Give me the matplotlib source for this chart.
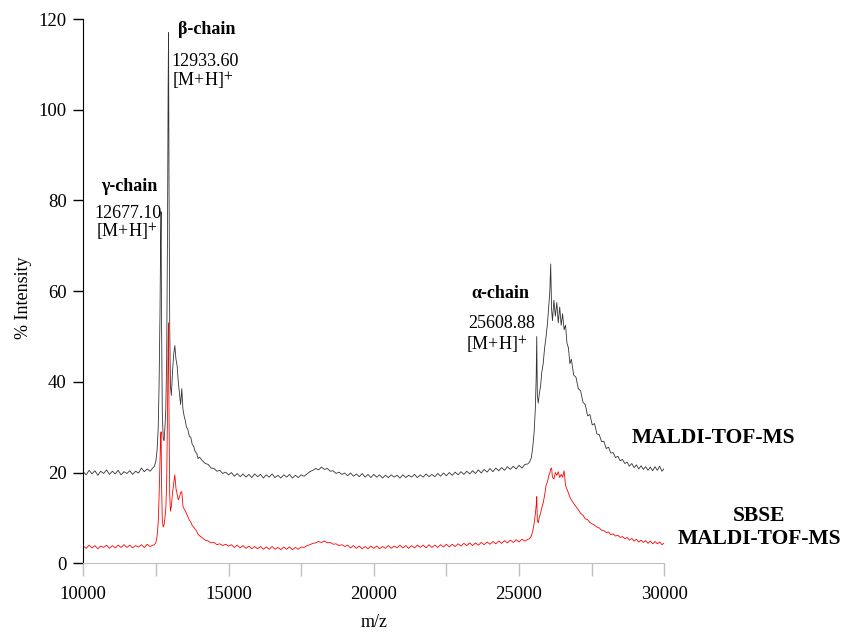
import matplotlib
matplotlib.use('Agg')
import matplotlib.pyplot as plt
from matplotlib.ticker import MultipleLocator

# m/z sampling points (denser around the chain peaks)
mz = [
    10000, 10100, 10200, 10300, 10400, 10500, 10600, 10700, 10800, 10900,
    11000, 11100, 11200, 11300, 11400, 11500, 11600, 11700, 11800, 11900,
    12000, 12100, 12200, 12300, 12400,
    12450, 12500, 12540, 12580, 12610, 12640, 12660, 12677, 12695, 12720,
    12750, 12780, 12810, 12840, 12870, 12900, 12920, 12934, 12950, 12975, 13000,
    13030, 13070, 13110, 13150, 13190, 13230, 13270, 13310, 13350, 13390,
    13430, 13470, 13510, 13550, 13600, 13650, 13700, 13750, 13800, 13850,
    13900, 13950, 14000,
    14100, 14200, 14300, 14400, 14500, 14600, 14700, 14800, 14900, 15000,
    15100, 15200, 15300, 15400, 15500, 15600, 15700, 15800, 15900, 16000,
    16100, 16200, 16300, 16400, 16500, 16600, 16700, 16800, 16900, 17000,
    17100, 17200, 17300, 17400, 17500, 17600, 17700, 17800, 17900, 18000,
    18100, 18200, 18300, 18400, 18500, 18600, 18700, 18800, 18900, 19000,
    19100, 19200, 19300, 19400, 19500, 19600, 19700, 19800, 19900, 20000,
    20100, 20200, 20300, 20400, 20500, 20600, 20700, 20800, 20900, 21000,
    21100, 21200, 21300, 21400, 21500, 21600, 21700, 21800, 21900, 22000,
    22100, 22200, 22300, 22400, 22500, 22600, 22700, 22800, 22900, 23000,
    23100, 23200, 23300, 23400, 23500, 23600, 23700, 23800, 23900, 24000,
    24100, 24200, 24300, 24400, 24500, 24600, 24700, 24800, 24900, 25000,
    25100, 25200, 25300,
    25360, 25420, 25470, 25520, 25560, 25590, 25609, 25630, 25660, 25700,
    25740, 25780, 25830, 25880, 25930, 25980, 26030, 26060, 26089, 26120,
    26150, 26200, 26250, 26300, 26350, 26400, 26450, 26500, 26550, 26600,
    26650, 26700, 26750, 26800,
    26880, 26960, 27040, 27120, 27200, 27280, 27360, 27440, 27520, 27600,
    27680, 27760, 27840, 27920, 28000, 28080, 28160, 28240, 28320, 28400,
    28480, 28560, 28640, 28720, 28800, 28880, 28960, 29040, 29120, 29200,
    29280, 29360, 29440, 29520, 29600, 29680, 29760, 29840, 29920, 30000,
]

# % intensity, MALDI-TOF-MS (black trace)
maldi = [
    20.2, 19.5, 20.5, 19.7, 20.4, 19.4, 20.3, 19.8, 20.6, 19.6,
    20.3, 19.7, 20.5, 19.5, 20.2, 19.8, 20.4, 19.6, 20.3, 19.9,
    21.0, 20.2, 20.8, 20.3, 21.1,
    21.4, 22.6, 25.0, 30.0, 40.0, 55.0, 70.0, 77.5, 52.0, 33.0,
    27.5, 27.0, 30.0, 34.0, 45.0, 75.0, 105.0, 117.0, 85.0, 52.0, 39.0,
    37.0, 42.0, 46.0, 48.0, 45.0, 43.5, 40.0, 37.5, 35.0, 38.5,
    34.0, 32.5, 31.5, 30.0, 29.5, 28.0, 27.8, 26.2, 25.8, 24.6,
    24.3, 23.1, 23.4,
    22.6, 22.0, 21.8, 21.0, 20.9, 20.3, 20.5, 19.8, 20.1, 19.5,
    20.0, 19.2, 19.8, 19.1, 19.7, 19.0, 19.6, 18.9, 19.7, 19.1,
    19.6, 18.8, 19.5, 19.0, 19.7, 18.9, 19.4, 18.8, 19.5, 19.0,
    19.6, 18.8, 19.4, 18.9, 19.5, 19.2, 19.7, 20.2, 20.5, 20.9,
    20.6, 21.2, 20.7, 20.9, 20.3, 20.4, 19.8, 20.1, 19.6, 19.9,
    19.3, 19.9, 19.2, 19.7, 19.1, 19.8, 19.0, 19.6, 18.9, 19.6,
    19.0, 19.5, 18.8, 19.4, 18.9, 19.5, 19.0, 19.4, 18.8, 19.5,
    18.9, 19.4, 19.0, 19.6, 18.9, 19.5, 19.0, 19.7, 19.1, 19.6,
    19.1, 19.8, 19.2, 19.9, 19.3, 20.0, 19.4, 20.1, 19.5, 20.2,
    19.6, 20.3, 19.7, 20.4, 19.8, 20.6, 19.9, 20.7, 20.1, 20.9,
    20.2, 21.0, 20.4, 21.1, 20.5, 21.3, 20.7, 21.4, 20.8, 21.6,
    21.0, 21.8, 21.9,
    22.3, 23.2, 25.5, 29.0, 34.0, 41.0, 50.0, 37.0, 35.3, 37.5,
    39.0, 42.0, 44.0, 47.5, 50.0, 53.0, 57.5, 60.0, 66.0, 56.0,
    53.5, 58.0, 54.5, 57.5, 53.0, 56.5, 52.5, 55.0, 51.5, 52.5,
    48.5, 47.5, 44.0, 45.0,
    41.5, 41.0, 38.5, 38.0, 35.5, 35.0, 32.5, 32.8, 30.5, 30.8,
    28.5, 28.4, 26.8, 26.9, 25.3, 25.6, 24.3, 24.4, 23.3, 23.6,
    22.6, 22.9, 22.0, 22.3, 21.4, 22.0, 21.1, 21.7, 20.8, 21.5,
    20.7, 21.3, 20.5, 21.2, 20.4, 21.3, 20.5, 21.4, 20.3, 20.9,
]

# % intensity, SBSE MALDI-TOF-MS (red trace)
sbse = [
    3.8, 3.3, 4.0, 3.4, 3.9, 3.2, 3.8, 3.5, 4.0, 3.3,
    3.9, 3.4, 4.0, 3.5, 4.1, 3.5, 4.0, 3.4, 3.9, 3.6,
    4.1, 3.5, 4.2, 3.7, 4.0,
    4.1, 4.6, 6.0, 9.0, 15.0, 22.0, 27.5, 29.0, 17.0, 9.5,
    8.0, 8.5, 10.0, 12.0, 18.0, 34.0, 49.0, 53.0, 33.0, 15.0, 11.5,
    12.5, 15.5, 17.5, 19.5, 16.5, 15.2, 14.0, 14.6, 15.6, 15.8,
    12.6, 12.0, 11.6, 11.0, 10.3, 9.5, 9.1, 8.3, 8.0, 7.5,
    7.1, 6.4, 6.1,
    5.6, 5.1, 4.9, 4.5, 4.6, 4.1, 4.3, 3.9, 4.2, 3.8,
    4.1, 3.5, 4.0, 3.4, 3.9, 3.3, 3.8, 3.2, 3.7, 3.2,
    3.7, 3.1, 3.6, 3.1, 3.7, 3.1, 3.5, 3.0, 3.6, 3.1,
    3.6, 3.0, 3.5, 3.1, 3.6, 3.5, 3.9, 4.1, 4.4, 4.5,
    4.8, 4.6, 4.9, 4.5, 4.6, 4.2, 4.3, 3.9, 4.1, 3.7,
    4.0, 3.4, 3.9, 3.3, 3.8, 3.2, 3.7, 3.2, 3.8, 3.3,
    3.8, 3.2, 3.7, 3.3, 3.9, 3.3, 3.8, 3.4, 4.0, 3.4,
    3.9, 3.3, 3.9, 3.4, 4.0, 3.5, 4.0, 3.4, 4.1, 3.5,
    4.0, 3.5, 4.1, 3.6, 4.2, 3.6, 4.2, 3.7, 4.3, 3.8,
    4.4, 3.9, 4.5, 3.9, 4.5, 4.0, 4.6, 4.1, 4.7, 4.2,
    4.8, 4.3, 4.9, 4.4, 5.0, 4.5, 5.1, 4.6, 5.2, 4.7,
    5.3, 4.9, 5.3,
    5.4, 6.0, 7.0, 8.8, 10.8, 12.8, 14.7, 9.5, 8.9, 10.2,
    11.0, 12.2, 13.3, 15.0, 17.2, 18.0, 19.5, 19.9, 20.8, 21.0,
    19.0, 18.6, 20.0, 19.4, 20.2, 18.9, 19.6, 19.0, 20.4, 17.2,
    16.3, 15.5, 14.6, 14.0,
    13.2, 12.5, 11.8, 11.0, 10.6, 9.8, 9.6, 9.0, 8.7, 8.4,
    8.0, 7.8, 7.3, 7.2, 6.8, 6.9, 6.3, 6.5, 6.0, 6.2,
    5.7, 5.9, 5.4, 5.7, 5.1, 5.5, 4.9, 5.3, 4.7, 5.1,
    4.6, 5.0, 4.4, 4.9, 4.3, 4.8, 4.3, 4.7, 4.1, 4.5,
]

plt.rcParams['font.family'] = 'Liberation Serif'
plt.rcParams['mathtext.fontset'] = 'stix'

fig = plt.figure(figsize=(8.41, 6.32), dpi=100)
ax = fig.add_axes([83.3 / 841, (632 - 563.3) / 632, 581 / 841, 544.3 / 632])

ax.plot(mz, maldi, color='#333333', lw=0.6)
ax.plot(mz, sbse, color='#ff0000', lw=0.6)

ax.set_xlim(10000, 30000)
ax.set_ylim(0, 120)

for side in ['top', 'right']:
    ax.spines[side].set_visible(False)
ax.spines['bottom'].set_color('#c0c0c0')
ax.spines['left'].set_color('black')

ax.xaxis.set_major_locator(MultipleLocator(5000))
ax.xaxis.set_minor_locator(MultipleLocator(2500))
ax.yaxis.set_major_locator(MultipleLocator(20))
ax.tick_params(axis='x', which='both', direction='out', length=9, width=1,
               color='#c0c0c0', pad=7, labelsize=13.5)
ax.tick_params(axis='y', direction='out', length=7, width=1,
               color='black', pad=5, labelsize=13.5)

ax.set_xlabel('m/z', fontsize=13)
ax.xaxis.set_label_coords(0.5, -0.093)
ax.set_ylabel('% Intensity', fontsize=13)
ax.yaxis.set_label_coords(-0.088, 0.487)

# peak annotations
sup = '[M+H]$^{+}$'
ax.text(11583, 83.0, 'γ-chain', ha='center', va='center', fontsize=13, fontweight='bold')
ax.text(11528, 77.2, '12677.10', ha='center', va='center', fontsize=13)
ax.text(11494, 73.0, sup, ha='center', va='center', fontsize=13)

ax.text(14248, 117.6, 'β-chain', ha='center', va='center', fontsize=13, fontweight='bold')
ax.text(14189, 110.7, '12933.60', ha='center', va='center', fontsize=13)
ax.text(14120, 106.3, sup, ha='center', va='center', fontsize=13)

ax.text(24344, 59.5, 'α-chain', ha='center', va='center', fontsize=13, fontweight='bold')
ax.text(24403, 52.9, '25608.88', ha='center', va='center', fontsize=13)
ax.text(24231, 48.1, sup, ha='center', va='center', fontsize=13)

# trace labels
fig.text(713 / 841, 1 - 438.3 / 632, 'MALDI-TOF-MS', ha='center', va='center',
         fontsize=15.5, fontweight='bold')
fig.text(759 / 841, 1 - 527.5 / 632, 'SBSE\nMALDI-TOF-MS', ha='center', va='center',
         fontsize=15.5, fontweight='bold', linespacing=1.15)

fig.savefig('out.png', dpi=100)
